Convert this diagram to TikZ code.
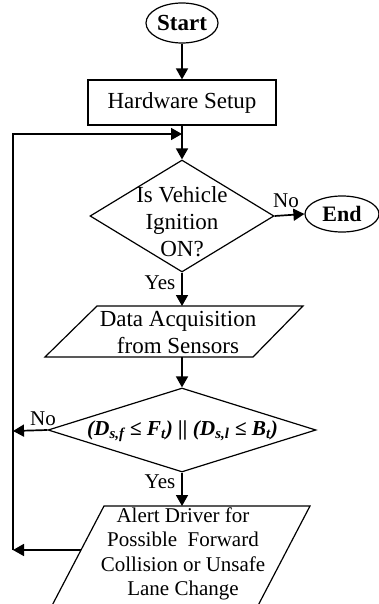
\documentclass[tikz,border=0pt]{standalone}
\usepackage{fontspec}
\setmainfont{Liberation Serif}
\usetikzlibrary{shapes.geometric,arrows.meta}
\begin{document}
\begin{tikzpicture}[x=1pt,y=-1pt,
 shp/.style={draw,line width=1.2pt,inner sep=0pt},
 arr/.style={line width=1.7pt,-{Triangle[length=11pt,width=12pt]}},
 ln/.style={line width=1.7pt},
 txt/.style={align=center,inner sep=0pt,font=\fontsize{23}{27}\selectfont},
 lbl/.style={inner sep=0pt,font=\fontsize{21}{24}\selectfont}]
\clip (0,0) rectangle (379,604);
\fill[white] (0,0) rectangle (379,604);
% terminals
\node[shp,ellipse,minimum width=72pt,minimum height=40pt,font=\fontsize{23}{27}\selectfont\bfseries] (start) at (182,23) {Start};
\node[shp,ellipse,minimum width=74pt,minimum height=36pt,font=\fontsize{22}{26}\selectfont\bfseries] (end) at (342,214) {End};
% process
\node[shp,rectangle,minimum width=188pt,minimum height=45pt,txt] (hw) at (182,102.5) {Hardware Setup};
% decisions
\node[shp,diamond,minimum width=184pt,minimum height=112pt] (d1) at (182,216) {};
\node[txt] (d1t) at (182,222) {Is Vehicle\\Ignition\\ON?};
\node[shp,diamond,minimum width=268pt,minimum height=84pt] (d2) at (182,430) {};
\node[inner sep=0pt,font=\fontsize{21.3}{25}\selectfont] (d2t) at (182.5,431) {\textbf{\textit{(D\textsubscript{s,f} ≤ F\textsubscript{t}) || (D\textsubscript{s,l} ≤ B\textsubscript{t})}}};
% data boxes
\draw[line width=1.2pt] (97,306) -- (303,306) -- (253,357) -- (45,357) -- cycle;
\coordinate (p1top) at (182,306);
\coordinate (p1bot) at (182,357);
\node[txt] (p1t) at (178,332) {Data Acquisition\\from Sensors};
\draw[line width=1.2pt] (104,506) -- (310,506) -- (240,640) -- (34,640) -- cycle;
\coordinate (p2top) at (182,506);
\coordinate (p2left) at (81.1,550);
\node[align=center,inner sep=0pt,font=\fontsize{21}{24.3}\selectfont] (p2t) at (183,554) {Alert Driver for\\Possible\ \ Forward\\Collision or Unsafe\\Lane Change};
% loop coordinates
\coordinate (lb) at (13,550);
\coordinate (jn) at (182,134);
\coordinate (nl) at (13,431);
% connectors
\draw[arr] (start.south) -- (hw.north);
\draw[ln] (hw.south) -- (jn);
\draw[arr] (jn) -- (d1.north);
\draw[arr] (d1.east) -- (end.west);
\draw[arr] (d1.south) -- (p1top);
\draw[arr] (p1bot) -- (d2.north);
\draw[arr] (d2.south) -- (p2top);
\draw[arr] (d2.west) -- (nl);
\draw[arr] (p2left) -- (lb);
\draw[arr] (lb) |- (jn);
% labels
\node[lbl] (no1) at (286,201) {No};
\node[lbl] (yes1) at (160,283) {Yes};
\node[lbl] (no2) at (43,419) {No};
\node[lbl] (yes2) at (160,482) {Yes};
\end{tikzpicture}
\end{document}
